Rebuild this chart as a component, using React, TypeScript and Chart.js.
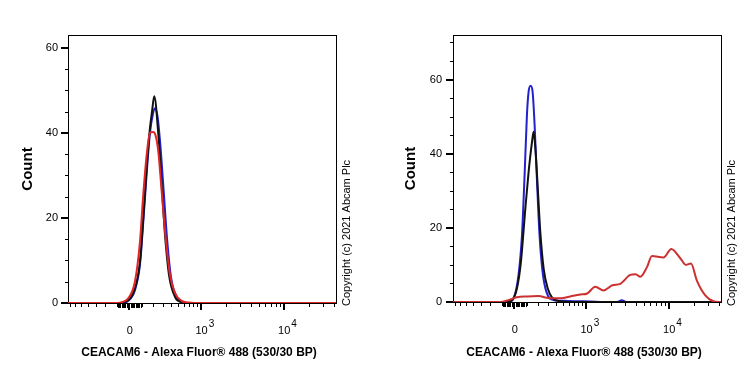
import React, { useEffect, useRef } from 'react';
import { Chart, registerables, LinearScale } from 'chart.js';

// ---------- data ----------
const COFACTOR = 280; // biexponential (asinh) display cofactor
const X_MIN = -736;
const X_MAX = 42500;

const X_TITLE = 'CEACAM6 - Alexa Fluor® 488 (530/30 BP)';
const Y_TITLE = 'Count';
const COPYRIGHT = 'Copyright (c) 2021 Abcam Plc';

const X_MAJOR_TICKS = [0, 1000, 10000];
const X_LABEL_BASES = ['0', '10', '10'];
const X_LABEL_EXPS = ['', '3', '4'];
const X_MINOR_TICKS = [
  -700, -600, -500, -400, -300, -200, -100,
  100, 200, 300, 400, 500, 600, 700, 800, 900,
  2000, 3000, 4000, 5000, 6000, 7000, 8000, 9000,
  20000, 30000, 40000,
];
const X_DENSE_TICKS = [-90, -80, -70, -60, -50, -40, -30, -20, -10, 10, 20, 30, 40, 50, 60, 70, 80, 90];

const LEFT_Y_MAX = 63;
const LEFT_Y_TICKS = [0, 5, 10, 15, 20, 25, 30, 35, 40, 45, 50, 55, 60];
const RIGHT_Y_MAX = 72;
const RIGHT_Y_TICKS = [0, 5, 10, 15, 20, 25, 30, 35, 40, 45, 50, 55, 60, 65, 70];

// Left panel
const L_RED_X = [-736, -89, -59, -8, 44, 84, 111, 140, 169, 197, 216, 250, 286, 332, 387, 457, 563, 689, 836, 42500];
const L_RED_Y = [0, 0, 0.2, 1.1, 5, 14.4, 25.4, 34.8, 40.0, 40.2, 39.8, 35.6, 26.2, 15.2, 6.5, 2.3, 0.5, 0.1, 0, 0];
const L_BLACK_X = [-736, -59, -41, -8, 44, 84, 111, 140, 169, 188, 209, 250, 286, 324, 374, 457, 563, 689, 42500];
const L_BLACK_Y = [0, 0, 0.2, 0.6, 3.4, 9.7, 19.9, 31.7, 41.1, 45.0, 48.6, 39.6, 27.8, 16, 6.5, 1.4, 0.2, 0, 0];
const L_BLUE_X = [-736, -59, -8, 44, 84, 111, 140, 169, 197, 216, 241, 268, 306, 349, 400, 487, 563, 689, 42500];
const L_BLUE_Y = [0, 0, 0.5, 3.0, 9.0, 19, 30.5, 40, 44.5, 45.8, 44, 38, 27, 15, 6, 1.2, 0.2, 0, 0];

// Right panel
const R_RED_X = [-736, -111, -47, 21, 103, 200, 328, 463, 629, 846, 1034, 1299, 1640, 2100, 2617, 3452, 4000, 4558, 5488, 6300, 8680, 10750, 13780, 16130, 18530, 21870, 27520, 34600, 42500];
const R_RED_Y = [0, 0, 0.5, 1.3, 1.5, 1.6, 1.0, 1.0, 1.5, 2.0, 2.3, 4.1, 3.1, 4.5, 4.9, 7.3, 7.5, 6.8, 9.4, 12.4, 12.0, 14.3, 11.8, 10.0, 10.4, 5.7, 1.8, 0.2, 0];
const R_BLACK_X = [-736, -70, -18, 21, 52, 87, 114, 143, 157, 175, 197, 219, 253, 297, 349, 461, 629, 42500];
const R_BLACK_Y = [0, 0, 0.5, 3.7, 10.9, 25.2, 35.1, 43.2, 45.9, 40.5, 29.7, 19, 9.1, 3.7, 1.2, 0.2, 0, 0];
const R_BLUE_X = [-736, -70, -39, -5, 33, 60, 81, 100, 114, 131, 148, 166, 188, 212, 242, 282, 369, 569, 922, 1494, 2407, 2727, 3091, 42500];
const R_BLUE_Y = [0, 0, 0.1, 1.0, 7.3, 18, 34.2, 50.4, 56.7, 58.3, 56.7, 47.7, 32.4, 18, 8.2, 2.8, 0.5, 0.3, 0.2, 0, 0, 0.5, 0, 0];

// ---------- scale ----------
const tf = (v: number) => Math.asinh(v / COFACTOR);
const inv = (t: number) => COFACTOR * Math.sinh(t);

class BiexScale extends LinearScale {
  static id = 'biex';
  static defaults = LinearScale.defaults;
  _tMin = 0;
  _tRange = 1;
  buildTicks() {
    return X_MAJOR_TICKS.map((v) => ({ value: v }));
  }
  configure() {
    super.configure();
    this._tMin = tf(this.min);
    this._tRange = tf(this.max) - this._tMin || 1;
  }
  getPixelForValue(v: number) {
    return this.getPixelForDecimal((tf(v) - this._tMin) / this._tRange);
  }
  getValueForPixel(p: number) {
    return inv(this._tMin + this.getDecimalForPixel(p) * this._tRange);
  }
}

Chart.register(...registerables, BiexScale);

const FONT = 'Arial, "Liberation Sans", Helvetica, sans-serif';
Chart.defaults.font.family = FONT;
Chart.defaults.color = '#000';

const toPts = (xs: number[], ys: number[]) => xs.map((x, i) => ({ x, y: ys[i] }));

type PanelProps = {
  redX: number[]; redY: number[];
  blackX: number[]; blackY: number[];
  blueX: number[]; blueY: number[];
  yMax: number; yTicks: number[];
  yAxisWidth: number; xAxisHeight: number; padRight: number;
  countPad: number; labelPad: number; copyrightX: number;
  redColor: string;
};

function Panel(p: PanelProps) {
  const ref = useRef<HTMLCanvasElement | null>(null);
  useEffect(() => {
    if (!ref.current) return;
    const decor = {
      id: 'decor',
      beforeDatasetsDraw(chart: any) {
        const { ctx, chartArea: ca } = chart;
        ctx.save();
        ctx.strokeStyle = '#000';
        ctx.lineWidth = 1;
        ctx.strokeRect(Math.round(ca.left) + 0.5, Math.round(ca.top) + 0.5,
          Math.round(ca.right - ca.left), Math.round(ca.bottom - ca.top));
        ctx.restore();
      },
      afterDraw(chart: any) {
        const { ctx, chartArea: ca, scales } = chart;
        const xs = scales.x, ys = scales.y;
        const bottom = Math.round(ca.bottom) + 1;
        ctx.save();
        ctx.strokeStyle = '#000';
        // x ticks
        const vline = (px: number, len: number, w: number) => {
          ctx.lineWidth = w;
          const xx = w % 2 === 1 ? Math.round(px) + 0.5 : Math.round(px);
          ctx.beginPath();
          ctx.moveTo(xx, bottom);
          ctx.lineTo(xx, bottom + len);
          ctx.stroke();
        };
        X_MINOR_TICKS.forEach((v) => vline(xs.getPixelForValue(v), 3, 1));
        X_DENSE_TICKS.forEach((v) => vline(xs.getPixelForValue(v), 4, 1));
        X_MAJOR_TICKS.forEach((v) => vline(xs.getPixelForValue(v), 6, 2));
        // x labels
        ctx.fillStyle = '#000';
        ctx.textBaseline = 'middle';
        X_MAJOR_TICKS.forEach((v, i) => {
          const px = xs.getPixelForValue(v);
          ctx.font = `11px ${FONT}`;
          ctx.textAlign = 'center';
          const base = X_LABEL_BASES[i];
          ctx.fillText(base, px + 0.5, bottom + 27);
          const exp = X_LABEL_EXPS[i];
          if (exp) {
            const w = ctx.measureText(base).width;
            ctx.font = `10px ${FONT}`;
            ctx.textAlign = 'left';
            ctx.fillText(exp, px + w / 2 + 1.5, bottom + 20);
          }
        });
        // x title
        ctx.font = `bold 12px ${FONT}`;
        ctx.textAlign = 'center';
        ctx.textBaseline = 'middle';
        ctx.fillText(X_TITLE, (ca.left + ca.right) / 2 - 3, 353);
        // y ticks
        const left = Math.round(ca.left);
        p.yTicks.forEach((v) => {
          const py = ys.getPixelForValue(v);
          const major = v % 20 === 0;
          const w = major ? 2 : 1;
          const yy = w === 1 ? Math.round(py) + 0.5 : Math.round(py);
          ctx.lineWidth = w;
          ctx.beginPath();
          ctx.moveTo(left, yy);
          ctx.lineTo(left - (major ? 7 : 3), yy);
          ctx.stroke();
        });
        // copyright
        ctx.font = `11px ${FONT}`;
        ctx.textAlign = 'left';
        ctx.textBaseline = 'middle';
        ctx.translate(p.copyrightX, 306);
        ctx.rotate(-Math.PI / 2);
        ctx.fillText(COPYRIGHT, 0, 0);
        ctx.restore();
      },
    };
    const line = (data: any, color: string) => ({
      data,
      borderColor: color,
      backgroundColor: color,
      borderWidth: 2,
      pointRadius: 0,
      fill: false,
      cubicInterpolationMode: 'monotone' as const,
    });
    const chart = new Chart(ref.current, {
      type: 'line',
      data: {
        datasets: [
          { label: 'CEACAM6', ...line(toPts(p.redX, p.redY), p.redColor) },
          { label: 'Unlabelled control', ...line(toPts(p.blackX, p.blackY), '#111111') },
          { label: 'Isotype control', ...line(toPts(p.blueX, p.blueY), '#2222cc') },
        ],
      },
      options: {
        responsive: false,
        animation: false,
        layout: { padding: { left: 0, top: 35, right: p.padRight, bottom: 0 } },
        plugins: { legend: { display: false }, tooltip: { enabled: false } },
        scales: {
          x: {
            type: 'biex' as any,
            min: X_MIN,
            max: X_MAX,
            grid: { display: false, drawTicks: false },
            border: { display: false },
            ticks: { display: false },
            title: { display: false },
            afterFit: (s: any) => { s.height = p.xAxisHeight; },
          } as any,
          y: {
            type: 'linear',
            min: 0,
            max: p.yMax,
            afterBuildTicks: (s: any) => { s.ticks = p.yTicks.map((v) => ({ value: v })); },
            grid: { display: false, drawTicks: false },
            border: { display: false },
            ticks: {
              padding: p.labelPad,
              color: '#000',
              font: { size: 11, family: FONT },
              callback: (v: any) => (Number(v) % 20 === 0 ? String(v) : ''),
            },
            title: {
              display: true,
              text: Y_TITLE,
              color: '#000',
              font: { size: 15, weight: 'bold', family: FONT },
              padding: { top: p.countPad, bottom: 0 },
            },
            afterFit: (s: any) => { s.width = p.yAxisWidth; },
          },
        },
      },
      plugins: [decor],
    });
    return () => chart.destroy();
  }, []);
  return <canvas ref={ref} width={375} height={375} style={{ display: 'block', width: 375, height: 375 }} />;
}

export default function App() {
  return (
    <div style={{ position: 'absolute', left: 0, top: 0, width: 750, height: 375, display: 'flex', background: '#fff' }}>
      <Panel
        redX={L_RED_X} redY={L_RED_Y}
        blackX={L_BLACK_X} blackY={L_BLACK_Y}
        blueX={L_BLUE_X} blueY={L_BLUE_Y}
        yMax={LEFT_Y_MAX} yTicks={LEFT_Y_TICKS}
        yAxisWidth={68} xAxisHeight={72} padRight={39}
        countPad={19} labelPad={10} copyrightX={347}
        redColor="#e02525"
      />
      <Panel
        redX={R_RED_X} redY={R_RED_Y}
        blackX={R_BLACK_X} blackY={R_BLACK_Y}
        blueX={R_BLUE_X} blueY={R_BLUE_Y}
        yMax={RIGHT_Y_MAX} yTicks={RIGHT_Y_TICKS}
        yAxisWidth={78} xAxisHeight={73} padRight={29}
        countPad={27} labelPad={11} copyrightX={357}
        redColor="#cc3030"
      />
    </div>
  );
}
